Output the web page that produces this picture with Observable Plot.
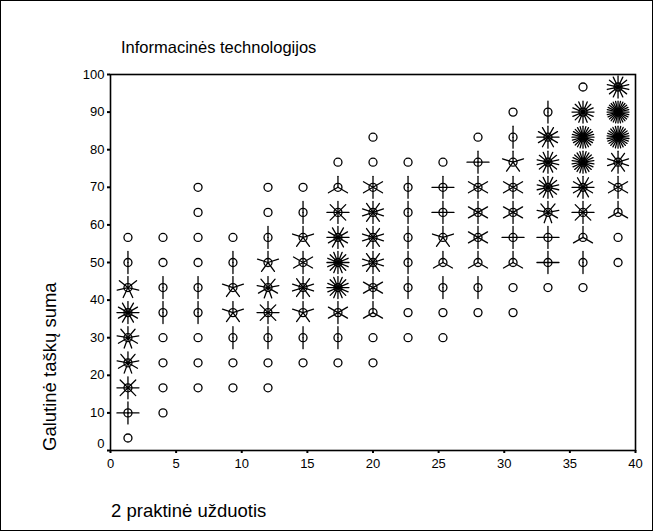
<!DOCTYPE html>
<html>
<head>
<meta charset="utf-8">
<script src="https://cdn.jsdelivr.net/npm/d3@7"></script>
<script src="https://cdn.jsdelivr.net/npm/@observablehq/plot@0.6"></script>
<style>
  body { margin: 0; background: #fff; }
  #wrap { position: relative; width: 653px; height: 531px; overflow: hidden; background: #fff;
          font-family: Arial, "Liberation Sans", sans-serif; color: #000; }
  #border { position: absolute; left: 0; top: 0; width: 653px; height: 531px; box-sizing: border-box;
            border: 1.5px solid #000; pointer-events: none; }
  #chart { position: absolute; left: 0; top: 0; }
  .lab { position: absolute; white-space: nowrap; }
  #title { left: 121px; top: 39px; font-size: 16.5px; line-height: 16.5px; }
  #xlab { left: 111px; top: 502px; font-size: 18.5px; line-height: 18.5px; }
  #ylab { left: 41px; top: 451px; font-size: 18.5px; line-height: 18.5px;
          transform-origin: left top; transform: rotate(-90deg); }
  svg [aria-label$="-axis tick"] { stroke-width: 2px; }
</style>
</head>
<body>
<div id="wrap">
  <div id="chart"></div>
  <div class="lab" id="title">Informacinės technologijos</div>
  <div class="lab" id="ylab">Galutinė taškų suma</div>
  <div class="lab" id="xlab">2 praktinė užduotis</div>
  <div id="border"></div>
</div>
<script>
// Column centres (x: 2 praktinė užduotis) and row centres (y: Galutinė taškų suma)
const xs = [1.33, 4, 6.67, 9.33, 12, 14.67, 17.33, 20, 22.67, 25.33, 28, 30.67, 33.33, 36, 38.67];
const ys = [3.33, 10, 16.67, 23.33, 30, 36.67, 43.33, 50, 56.67, 63.33, 70, 76.67, 83.33, 90, 96.67];

// Number of cases (sunflower petals) per cell, one array per column, rows bottom -> top
const c01 = [1, 4, 8, 9, 9, 12, 7, 2, 1, 0, 0, 0, 0, 0, 0];
const c02 = [0, 1, 1, 1, 1, 2, 2, 1, 1, 0, 0, 0, 0, 0, 0];
const c03 = [0, 0, 1, 1, 1, 2, 2, 1, 1, 1, 1, 0, 0, 0, 0];
const c04 = [0, 0, 1, 1, 2, 5, 5, 2, 1, 0, 0, 0, 0, 0, 0];
const c05 = [0, 0, 1, 1, 2, 8, 9, 5, 2, 1, 1, 0, 0, 0, 0];
const c06 = [0, 0, 0, 1, 2, 5, 10, 6, 5, 2, 1, 0, 0, 0, 0];
const c07 = [0, 0, 0, 1, 2, 6, 16, 16, 12, 8, 3, 1, 0, 0, 0];
const c08 = [0, 0, 0, 1, 1, 3, 6, 10, 10, 10, 6, 1, 1, 0, 0];
const c09 = [0, 0, 0, 0, 1, 1, 2, 2, 2, 2, 2, 1, 0, 0, 0];
const c10 = [0, 0, 0, 0, 1, 1, 2, 3, 5, 4, 4, 1, 0, 0, 0];
const c11 = [0, 0, 0, 0, 0, 1, 2, 3, 6, 6, 6, 4, 1, 0, 0];
const c12 = [0, 0, 0, 0, 0, 1, 1, 3, 4, 6, 6, 5, 2, 1, 0];
const c13 = [0, 0, 0, 0, 0, 0, 1, 4, 4, 9, 14, 14, 12, 2, 0];
const c14 = [0, 0, 0, 0, 0, 0, 1, 2, 3, 8, 12, 22, 24, 16, 1];
const c15 = [0, 0, 0, 0, 0, 0, 0, 1, 1, 3, 6, 10, 26, 28, 14];
const columns = [c01, c02, c03, c04, c05, c06, c07, c08, c09, c10, c11, c12, c13, c14, c15];

// Axis tick labels
const xTicks = [0, 5, 10, 15, 20, 25, 30, 35, 40];
const yTicks = [0, 10, 20, 30, 40, 50, 60, 70, 80, 90, 100];

const cells = [];
columns.forEach((col, i) => col.forEach((n, j) => { if (n > 0) cells.push({x: xs[i], y: ys[j], n}); }));
const petals = cells.filter(d => d.n > 1)
  .flatMap(d => d3.range(d.n).map(k => ({x: d.x, y: d.y, a: k * 360 / d.n})));

const petalShape = { draw(context, l) { context.moveTo(0, 0); context.lineTo(0, -l); } };

const chart = Plot.plot({
  width: 653,
  height: 531,
  marginLeft: 110,
  marginRight: 18,
  marginTop: 74,
  marginBottom: 81,
  style: { fontFamily: 'Arial, "Liberation Sans", sans-serif', fontSize: "13px", color: "#000", background: "transparent" },
  x: { domain: [0, 40], ticks: xTicks, tickSize: 3, tickPadding: 5, label: null },
  y: { domain: [0, 100], ticks: yTicks, tickSize: 3, tickPadding: 3, label: null,
       tickFormat: d => (d === 0 ? "" : String(d)) },
  marks: [
    Plot.frame({ stroke: "#000", strokeWidth: 1.6 }),
    // the "0" label of the y axis sits a little above its tick, as in the original
    Plot.text(yTicks.filter(d => d === 0), { x: () => 0, y: d => d, text: d => String(d),
      textAnchor: "end", dx: -6, dy: -7, fontSize: 13 }),
    Plot.vector(petals, { x: "x", y: "y", rotate: "a", length: 11, anchor: "start", shape: petalShape,
                          stroke: "#000", strokeWidth: 1.3 }),
    Plot.dot(cells, { x: "x", y: "y", r: 4, stroke: "#000", strokeWidth: 1.3, fill: "none" })
  ]
});
document.getElementById("chart").appendChild(chart);
</script>
</body>
</html>
